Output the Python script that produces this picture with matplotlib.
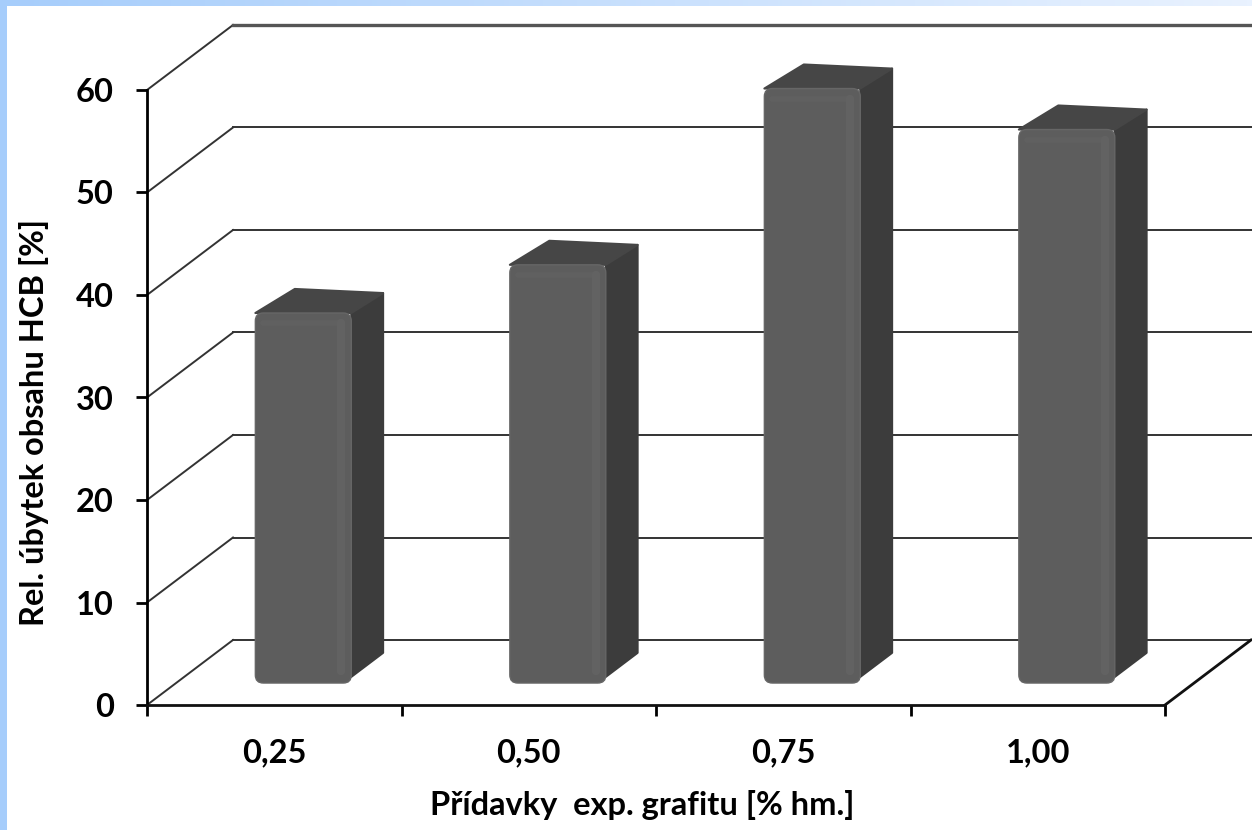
import matplotlib
matplotlib.use("Agg")
import matplotlib.pyplot as plt
import numpy as np
from matplotlib.patches import Polygon, FancyBboxPatch, Rectangle
from matplotlib.colors import LinearSegmentedColormap

# ---- data ----
categories = ["0,25", "0,50", "0,75", "1,00"]
values = [36.1, 40.8, 58.0, 54.0]
yticks = [0, 10, 20, 30, 40, 50, 60]
ylabel = "Rel. úbytek obsahu HCB [%]"
xlabel = "Přídavky  exp. grafitu [% hm.]"

W, H = 1252, 830
fig = plt.figure(figsize=(W / 100, H / 100), dpi=100)
fig.patch.set_facecolor("white")
plt.rcParams["font.family"] = ["Lato", "DejaVu Sans"]

# front plane of the 3D box in pixels
x0p, x1p, y0p, y1p = 147, 1165, 705, 90
ax = fig.add_axes([x0p / W, 1 - y0p / H, (x1p - x0p) / W, (y0p - y1p) / H])
ax.set_xlim(-0.5, len(categories) - 0.5)
ax.set_ylim(0, 60)
ax.patch.set_alpha(0)

# depth offsets (full depth) in data units
px_x = (x1p - x0p) / len(categories)
px_y = (y0p - y1p) / 60
DX = 86 / px_x
DY = 65 / px_y


def P(x, v, d):
    return (x + d * DX, v + d * DY)


xl, xr = -0.5, len(categories) - 0.5
gc = "#333333"
# side wall diagonals + back wall gridlines
for v in yticks:
    lw = 2.4 if v == yticks[-1] else 1.4
    a, b = P(xl, v, 0), P(xl, v, 1)
    ax.plot([a[0], b[0]], [a[1], b[1]], color=gc, lw=1.4, clip_on=False, zorder=1)
    c = P(xr, v, 1)
    ax.plot([b[0], c[0] + 0.02], [b[1], c[1]], color="#555555" if v == yticks[-1] else gc,
            lw=lw, clip_on=False, zorder=1)
# floor right edge
a, b = P(xr, 0, 0), P(xr, 0, 1)
ax.plot([a[0], b[0]], [a[1], b[1]], color="#111111", lw=2, clip_on=False, zorder=1)

# bars
w = 0.1885
d0, d1 = 0.338, 0.708
front_c, side_c, top_c = "#5d5d5d", "#3c3c3c", "#464646"
aspect = px_x / px_y
for i, v in enumerate(values):
    # side face
    side = [P(i + w, 0.6, d0), P(i + w, 0.6, d1), P(i + w, v - 0.4, d1), P(i + w, v, d0)]
    ax.add_patch(Polygon(side, closed=True, facecolor=side_c, edgecolor=side_c, lw=1.5,
                         joinstyle="round", clip_on=False, zorder=3))
    # top face
    top = [P(i - w, v, d0), P(i + w, v, d0), P(i + w, v - 0.4, d1), P(i - w + 0.03, v, d1)]
    ax.add_patch(Polygon(top, closed=True, facecolor=top_c, edgecolor=top_c, lw=1.5,
                         joinstyle="round", clip_on=False, zorder=3))
    # front face (rounded)
    fx, fy = P(i - w, 0, d0)
    r = 8 / px_x
    ax.add_patch(FancyBboxPatch((fx, fy), 2 * w, v,
                                boxstyle=f"round,pad=0,rounding_size={r}",
                                mutation_aspect=aspect,
                                facecolor=front_c, edgecolor="#666666", lw=1.0,
                                clip_on=False, zorder=4))
    # soft highlight band near the right edge and top of the front face
    hx = fx + 2 * w - 10 / px_x
    ax.plot([hx, hx], [fy + 1.2, fy + v - 1.0], color="#646464", lw=6, alpha=0.8,
            solid_capstyle="round", clip_on=False, zorder=5)
    ax.plot([fx + 8 / px_x, hx], [fy + v - 1.0, fy + v - 1.0], color="#626262", lw=4,
            alpha=0.7, solid_capstyle="round", clip_on=False, zorder=5)

# axes styling
for s in ["top", "right"]:
    ax.spines[s].set_visible(False)
ax.spines["left"].set_linewidth(2)
ax.spines["bottom"].set_linewidth(2)
ax.spines["bottom"].set_color("#111111")
ax.set_yticks(yticks)
ax.set_yticklabels([str(t) for t in yticks], fontsize=23.5, fontweight="bold")
ax.tick_params(axis="y", direction="out", length=8, width=2, pad=16)
ax.set_xticks(np.arange(-0.5, len(categories), 1.0))
ax.set_xticklabels([])
ax.tick_params(axis="x", which="major", direction="out", length=8, width=2)
ax.set_xticks(np.arange(len(categories)), minor=True)
ax.set_xticklabels(categories, minor=True, fontsize=23.5, fontweight="bold")
ax.tick_params(axis="x", which="minor", length=0, pad=24)

fig.text(34 / W, 1 - 422 / H, ylabel, rotation=90, ha="center", va="center",
         fontsize=23.5, fontweight="bold")
fig.text(642 / W, 1 - 805 / H, xlabel, ha="center", va="center",
         fontsize=23.5, fontweight="bold")

# light-blue frame at the left and top
fig.patches.append(Rectangle((0, 0), 7 / W, 1, transform=fig.transFigure,
                             facecolor="#a6cdfb", edgecolor="none", zorder=0))
bax = fig.add_axes([0, 1 - 6 / H, 1, 6 / H])
grad = np.linspace(0, 1, 256)[None, :]
cm = LinearSegmentedColormap.from_list("b", ["#a6cdfb", "#e9f2ff"])
bax.imshow(grad, aspect="auto", cmap=cm, extent=[0, 1, 0, 1])
bax.set_axis_off()

fig.savefig("out.png", dpi=100)
